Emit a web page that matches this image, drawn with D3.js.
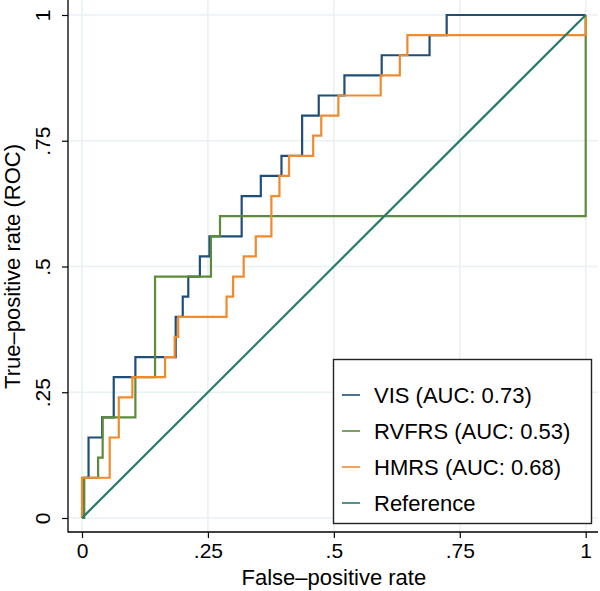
<!DOCTYPE html>
<html>
<head>
<meta charset="utf-8">
<script src="https://cdn.jsdelivr.net/npm/d3@7"></script>
<style>
  html, body { margin: 0; padding: 0; background: #ffffff; }
  svg { display: block; }
  text { font-family: "Liberation Sans", Arial, Helvetica, sans-serif; fill: #000; }
</style>
</head>
<body>
<svg id="chart" width="600" height="591"></svg>
<script>
// ---- data (ROC corner points, drawn as step-after curves) ----
const tickValues = [0, 0.25, 0.5, 0.75, 1];
const tickLabels = ["0", ".25", ".5", ".75", "1"];

const visFpr = [0, 0.003, 0.013, 0.040, 0.063, 0.106, 0.186, 0.200, 0.211, 0.234, 0.253, 0.317, 0.355, 0.396, 0.437, 0.470, 0.521, 0.595, 0.690, 0.724, 1];
const visTpr = [0, 0.08, 0.16, 0.20, 0.28, 0.32, 0.40, 0.44, 0.48, 0.52, 0.56, 0.64, 0.68, 0.72, 0.80, 0.84, 0.88, 0.92, 0.96, 1.00, 1.00];

const rvfrsFpr = [0, 0.0045, 0.032, 0.041, 0.106, 0.145, 0.256, 0.274, 1];
const rvfrsTpr = [0, 0.08, 0.12, 0.20, 0.28, 0.48, 0.56, 0.60, 1.00];

const hmrsFpr = [0, 0, 0.055, 0.073, 0.100, 0.165, 0.184, 0.191, 0.287, 0.300, 0.321, 0.345, 0.376, 0.392, 0.411, 0.459, 0.475, 0.509, 0.593, 0.631, 0.646, 1];
const hmrsTpr = [0, 0.08, 0.16, 0.24, 0.28, 0.32, 0.36, 0.40, 0.44, 0.48, 0.52, 0.56, 0.64, 0.68, 0.72, 0.76, 0.80, 0.84, 0.88, 0.92, 0.96, 1.00];

const refFpr = [0, 1];
const refTpr = [0, 1];

const seriesNames = ["VIS (AUC: 0.73)", "RVFRS (AUC: 0.53)", "HMRS (AUC: 0.68)", "Reference"];
const seriesColors = ["#1f4e79", "#5e8a3c", "#f08a2c", "#267a6c"];

const xTitle = "False\u2013positive rate";
const yTitle = "True\u2013positive rate (ROC)";

// ---- layout ----
const svg = d3.select("#chart");
const x = d3.scaleLinear().domain([0, 1]).range([82, 585.7]);
const y = d3.scaleLinear().domain([0, 1]).range([518, 15]);
const region = { left: 68, right: 598, top: 0, bottom: 532 };

// grid
const grid = svg.append("g");
grid.selectAll("line.h").data(tickValues).join("line")
  .attr("x1", region.left).attr("x2", region.right)
  .attr("y1", d => y(d)).attr("y2", d => y(d))
  .attr("stroke", "#e8f1f4").attr("stroke-width", 1.6);
grid.selectAll("line.v").data(tickValues).join("line")
  .attr("y1", region.top).attr("y2", region.bottom)
  .attr("x1", d => x(d)).attr("x2", d => x(d))
  .attr("stroke", "#e8f1f4").attr("stroke-width", 1.6);

// axes
const xAxis = d3.axisBottom(x).tickValues(tickValues)
  .tickFormat((d, i) => tickLabels[i]).tickSize(6).tickSizeOuter(0).tickPadding(5);
const gx = svg.append("g").attr("transform", `translate(0,${region.bottom})`).call(xAxis);
gx.select(".domain").remove();
gx.append("line").attr("x1", region.left).attr("x2", region.right).attr("y1", 0).attr("y2", 0)
  .attr("stroke", "#000").attr("stroke-width", 1.3);
gx.selectAll(".tick line").attr("stroke", "#000").attr("stroke-width", 1.2);
gx.selectAll(".tick text").attr("font-size", 21).attr("font-family", "Liberation Sans, Arial, sans-serif").attr("fill", "#000");

const yAxis = d3.axisLeft(y).tickValues(tickValues)
  .tickFormat((d, i) => tickLabels[i]).tickSize(6).tickSizeOuter(0).tickPadding(4);
const gy = svg.append("g").attr("transform", `translate(${region.left},0)`).call(yAxis);
gy.select(".domain").remove();
gy.append("line").attr("x1", 0).attr("x2", 0).attr("y1", region.top).attr("y2", region.bottom + 0.6)
  .attr("stroke", "#000").attr("stroke-width", 1.3);
gy.selectAll(".tick line").attr("stroke", "#000").attr("stroke-width", 1.2);
gy.selectAll(".tick text")
  .attr("font-size", 21).attr("font-family", "Liberation Sans, Arial, sans-serif").attr("fill", "#000")
  .attr("text-anchor", "middle").attr("dy", null)
  .attr("x", null)
  .attr("transform", "translate(-18,0) rotate(-90)");

// axis titles
svg.append("text").attr("x", (x(0) + x(1)) / 2).attr("y", 585)
  .attr("text-anchor", "middle").attr("font-size", 22).text(xTitle);
svg.append("text").attr("transform", `translate(20,${(y(0) + y(1)) / 2}) rotate(-90)`)
  .attr("text-anchor", "middle").attr("font-size", 22).text(yTitle);

// series
const stepLine = d3.line().x(d => x(d[0])).y(d => y(d[1])).curve(d3.curveStepAfter);
const straightLine = d3.line().x(d => x(d[0])).y(d => y(d[1]));
const series = [
  { pts: d3.zip(visFpr, visTpr), color: seriesColors[0], gen: stepLine },
  { pts: d3.zip(rvfrsFpr, rvfrsTpr), color: seriesColors[1], gen: stepLine },
  { pts: d3.zip(hmrsFpr, hmrsTpr), color: seriesColors[2], gen: stepLine },
  { pts: d3.zip(refFpr, refTpr), color: seriesColors[3], gen: straightLine }
];
svg.append("g").selectAll("path").data(series).join("path")
  .attr("d", s => s.gen(s.pts))
  .attr("fill", "none")
  .attr("stroke", s => s.color)
  .attr("stroke-width", 2.2)
  .attr("stroke-linejoin", "miter");

// legend
const lg = svg.append("g");
lg.append("rect").attr("x", 333.5).attr("y", 359.5).attr("width", 258).attr("height", 164)
  .attr("fill", "#fff").attr("stroke", "#222").attr("stroke-width", 1.4);
const rowY = d3.scaleLinear().domain([0, 3]).range([395, 503]);
const rows = lg.selectAll("g.row").data(seriesNames).join("g")
  .attr("transform", (d, i) => `translate(0,${rowY(i)})`);
rows.append("line").attr("x1", 342).attr("x2", 360).attr("y1", 0).attr("y2", 0)
  .attr("stroke", (d, i) => seriesColors[i]).attr("stroke-width", 1.6);
rows.append("text").attr("x", 374).attr("y", 0).attr("dy", "0.36em")
  .attr("font-size", 22).text(d => d);
</script>
</body>
</html>
